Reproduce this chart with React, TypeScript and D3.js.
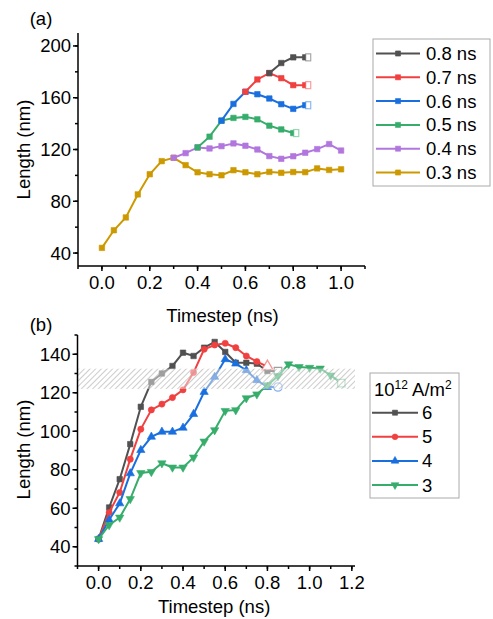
import React from 'react';
import * as d3 from 'd3';

// panel (a): growth length for different pulse lengths, branching off each other
const seriesA = ['0.8 ns', '0.7 ns', '0.6 ns', '0.5 ns', '0.4 ns', '0.3 ns'];
const colorsA = ['#515151', '#F14040', '#1A6FDF', '#37AD6B', '#B177DE', '#CC9900'];

const t03 = [0, 0.05, 0.1, 0.15, 0.2, 0.25, 0.3, 0.35, 0.4, 0.45, 0.5, 0.55, 0.6, 0.65, 0.7, 0.75, 0.8, 0.85, 0.9, 0.95, 1.0];
const len03 = [44, 57.6, 67.5, 85.3, 100.9, 111, 113.6, 107.9, 102.4, 100.9, 100.1, 104, 102.4, 100.9, 102.7, 102, 102.6, 102.5, 105.4, 104.2, 104.7];
const t04 = [0.3, 0.35, 0.4, 0.45, 0.5, 0.55, 0.6, 0.65, 0.7, 0.75, 0.8, 0.85, 0.9, 0.95, 1.0];
const len04 = [113.6, 117.2, 121.6, 120.8, 122.6, 124.7, 122.9, 120, 114.9, 112.8, 114.8, 117.5, 120.3, 124.2, 119.2];
const t05 = [0.4, 0.45, 0.5, 0.55, 0.6, 0.65, 0.7, 0.75, 0.8];
const len05 = [121.6, 129.9, 142.3, 144.4, 145.2, 143.3, 138.4, 135.5, 132.7];
const t06 = [0.5, 0.55, 0.6, 0.65, 0.7, 0.75, 0.8, 0.85];
const len06 = [142.3, 155.2, 164.6, 162.7, 159.4, 155, 151.4, 154.2];
const t07 = [0.6, 0.65, 0.7, 0.75, 0.8, 0.85];
const len07 = [164.6, 174.1, 179, 175.1, 169.7, 169.7];
const t08 = [0.7, 0.75, 0.8, 0.85];
const len08 = [179, 186.8, 191.2, 191.2];

// panel (b): growth length for different current densities
const seriesB = ['6', '5', '4', '3'];
const colorsB = ['#515151', '#F14040', '#1A6FDF', '#37AD6B'];
const tB = [0, 0.05, 0.1, 0.15, 0.2, 0.25, 0.3, 0.35, 0.4, 0.45, 0.5, 0.55, 0.6, 0.65, 0.7, 0.75, 0.8, 0.85, 0.9, 0.95, 1.0, 1.05, 1.1, 1.15];
const len6 = [44, 60.4, 75.1, 93.3, 112.7, 125.6, 130, 133.9, 140.8, 139.1, 143.4, 146.4, 141.2, 135.6, 135.6, 135.1, 131.3, 131.3];
const len5 = [44, 57.8, 68.2, 85.5, 101.1, 111.1, 114.1, 117.5, 121.5, 130.5, 142.6, 144.8, 145.7, 143.4, 139.1, 136.2, 133.6];
const len4 = [44, 54, 62.5, 78.1, 90.2, 97.1, 99.7, 99.7, 101.8, 108.9, 120.4, 128.2, 137.4, 135.1, 131.7, 126.5, 123, 123];
const len3 = [44, 51.3, 55.2, 64.8, 78.3, 78.9, 83.4, 81.2, 81.2, 86.4, 94.7, 100.6, 110.6, 111, 117.2, 119.2, 123.9, 128.7, 134.8, 133.4, 133, 132.6, 129, 125];
const band = [122, 132.5];

const ticksYA = [40, 80, 120, 160, 200];
const ticksYB = [40, 60, 80, 100, 120, 140];
const ticksXA = [0, 0.2, 0.4, 0.6, 0.8, 1.0];
const ticksXB = [0, 0.2, 0.4, 0.6, 0.8, 1.0, 1.2];

const FONT = '"Liberation Sans", Arial, sans-serif';
const FS = 18.5;

type Pt = [number, number];
const zip = (xs: number[], ys: number[]): Pt[] => ys.map((y, i) => [xs[i], y]);

function Axes({ x, y, xt, yt, yMinor, xMinorStep }: any) {
  const [x0, x1] = x.range();
  const [y0, y1] = y.range();
  const [xd0, xd1] = x.domain();
  const [yd0, yd1] = y.domain();
  const xm = d3.range(Math.ceil(xd0 / xMinorStep) * xMinorStep, xd1 + 1e-9, xMinorStep);
  const ym = d3.range(Math.ceil(yd0 / yMinor) * yMinor, yd1 + 1e-9, yMinor);
  return (
    <g stroke="#000" strokeWidth={1.5}>
      <line x1={x0} x2={x1} y1={y0} y2={y0} />
      <line x1={x0} x2={x0} y1={y0} y2={y1} />
      {xm.map((v, i) => (
        <line key={'xm' + i} x1={x(v)} x2={x(v)} y1={y0} y2={y0 + 3} />
      ))}
      {xt.map((v: number) => (
        <g key={'x' + v}>
          <line x1={x(v)} x2={x(v)} y1={y0} y2={y0 + 5} />
          <text x={x(v)} y={y0 + 23} textAnchor="middle" stroke="none" fill="#000" fontSize={FS}>{v.toFixed(1)}</text>
        </g>
      ))}
      {ym.map((v, i) => (
        <line key={'ym' + i} x1={x0 - 3} x2={x0} y1={y(v)} y2={y(v)} />
      ))}
      {yt.map((v: number) => (
        <g key={'y' + v}>
          <line x1={x0 - 5} x2={x0} y1={y(v)} y2={y(v)} />
          <text x={x0 - 7} y={y(v) + 6.5} textAnchor="end" stroke="none" fill="#000" fontSize={FS}>{v}</text>
        </g>
      ))}
    </g>
  );
}

function Marker({ type, cx, cy, color, open, size = 30 }: any) {
  const sym = type === 'circle' ? d3.symbolCircle : type === 'square' ? d3.symbolSquare : d3.symbolTriangle;
  const d = d3.symbol().type(sym).size(size)() as string;
  const rot = type === 'down' ? 180 : 0;
  return (
    <path d={d} transform={`translate(${cx},${cy}) rotate(${rot})`}
      fill={open ? '#fff' : color} stroke={color} strokeWidth={open ? 1.3 : 0.6}
      strokeOpacity={open ? 0.55 : 1} />
  );
}

export default function App() {
  const xA = d3.scaleLinear().domain([-0.1, 1.1]).range([78, 365]);
  const yA = d3.scaleLinear().domain([30, 210]).range([266, 33]);
  const xB = d3.scaleLinear().domain([-0.1, 1.215]).range([77.5, 355]);
  const yB = d3.scaleLinear().domain([30, 150]).range([566, 335]);

  const lineA = d3.line<Pt>().x(d => xA(d[0])).y(d => yA(d[1]));
  const lineB = d3.line<Pt>().x(d => xB(d[0])).y(d => yB(d[1]));

  // draw order: lowest series first
  const dataA = [
    { pts: zip(t03, len03), c: colorsA[5] },
    { pts: zip(t04, len04), c: colorsA[4] },
    { pts: zip(t05, len05), c: colorsA[3], end: true },
    { pts: zip(t06, len06), c: colorsA[2], end: true },
    { pts: zip(t07, len07), c: colorsA[1], end: true },
    { pts: zip(t08, len08), c: colorsA[0], end: true },
  ];
  const dataB = [
    { pts: zip(tB, len6), c: colorsB[0], m: 'square', endM: 'square' },
    { pts: zip(tB, len5), c: colorsB[1], m: 'circle', endM: 'up' },
    { pts: zip(tB, len4), c: colorsB[2], m: 'up', endM: 'circle' },
    { pts: zip(tB, len3), c: colorsB[3], m: 'down', endM: 'square' },
  ];
  const markB = ['square', 'circle', 'up', 'down'];

  return (
    <svg width={493} height={619} style={{ position: 'absolute', left: 0, top: 0, background: '#fff' }} fontFamily={FONT}>
      <defs>
        <pattern id="hatch" patternUnits="userSpaceOnUse" width={4} height={4} patternTransform="rotate(45)">
          <line x1={0} y1={0} x2={0} y2={4} stroke="#9a9a9a" strokeWidth={1} />
        </pattern>
      </defs>

      {/* panel (a) */}
      <text x={41} y={25} textAnchor="middle" fontSize={FS}>(a)</text>
      <text transform={`translate(30,${(yA.range()[0] + yA.range()[1]) / 2}) rotate(-90)`} textAnchor="middle" fontSize={FS}>Length (nm)</text>
      <text x={(xA(0) + xA(1)) / 2 + 1} y={322} textAnchor="middle" fontSize={FS}>Timestep (ns)</text>
      {dataA.map((s, i) => (
        <g key={'a' + i}>
          <path d={lineA(s.pts) as string} fill="none" stroke={s.c} strokeWidth={2} />
          {s.pts.map((p, j) => (
            <Marker key={j} type="square" cx={xA(p[0])} cy={yA(p[1])} color={s.c} size={30} />
          ))}
          {s.end && (() => {
            const p = s.pts[s.pts.length - 1];
            return <rect x={xA(p[0]) + 0.5} y={yA(p[1]) - 3.5} width={5} height={7} fill="#fff" stroke={s.c} strokeOpacity={0.5} strokeWidth={1.2} />;
          })()}
        </g>
      ))}
      <Axes x={xA} y={yA} xt={ticksXA} yt={ticksYA} yMinor={20} xMinorStep={0.1} />

      {/* legend (a) */}
      <rect x={373} y={39} width={117} height={147} fill="#fff" stroke="#aaa" strokeWidth={1} />
      {seriesA.map((name, i) => {
        const cy = 53.5 + i * 23.8;
        return (
          <g key={name}>
            <line x1={376} x2={420} y1={cy} y2={cy} stroke={colorsA[i]} strokeWidth={2} />
            <Marker type="square" cx={398} cy={cy} color={colorsA[i]} size={26} />
            <text x={426} y={cy + 6.5} fontSize={FS}>{name}</text>
          </g>
        );
      })}

      {/* panel (b) */}
      <text x={41} y={331} textAnchor="middle" fontSize={FS}>(b)</text>
      <text transform={`translate(30,${(yB.range()[0] + yB.range()[1]) / 2 - 1}) rotate(-90)`} textAnchor="middle" fontSize={FS}>Length (nm)</text>
      <text x={(xB(0) + xB(1)) / 2 + 10} y={613} textAnchor="middle" fontSize={FS}>Timestep (ns)</text>
      {dataB.map((s, i) => (
        <g key={'b' + i}>
          <path d={lineB(s.pts) as string} fill="none" stroke={s.c} strokeWidth={2} />
          {s.pts.slice(0, -1).map((p, j) => (
            <Marker key={j} type={s.m} cx={xB(p[0])} cy={yB(p[1])} color={s.c} size={30} />
          ))}
          {(() => {
            const p = s.pts[s.pts.length - 1];
            return <Marker type={s.endM} cx={xB(p[0])} cy={yB(p[1])} color={s.c} open size={55} />;
          })()}
        </g>
      ))}
      <rect x={xB.range()[0]} y={yB(band[1])} width={xB.range()[1] - xB.range()[0]} height={yB(band[0]) - yB(band[1])}
        fill="#fff" fillOpacity={0.45} />
      <rect x={xB.range()[0]} y={yB(band[1])} width={xB.range()[1] - xB.range()[0]} height={yB(band[0]) - yB(band[1])}
        fill="url(#hatch)" />
      <Axes x={xB} y={yB} xt={ticksXB} yt={ticksYB} yMinor={10} xMinorStep={0.1} />

      {/* legend (b) */}
      <rect x={370} y={373} width={89} height={125} fill="#fff" stroke="#aaa" strokeWidth={1} />
      <text x={374} y={396} fontSize={FS}>
        10<tspan fontSize={12} dy={-7}>12</tspan><tspan dy={7}> A/m</tspan><tspan fontSize={12} dy={-7}>2</tspan>
      </text>
      {seriesB.map((name, i) => {
        const cy = 412.7 + i * 24.1;
        return (
          <g key={name}>
            <line x1={372} x2={418} y1={cy} y2={cy} stroke={colorsB[i]} strokeWidth={2} />
            <Marker type={markB[i]} cx={395} cy={cy} color={colorsB[i]} size={26} />
            <text x={422} y={cy + 6.5} fontSize={FS}>{name}</text>
          </g>
        );
      })}
    </svg>
  );
}
